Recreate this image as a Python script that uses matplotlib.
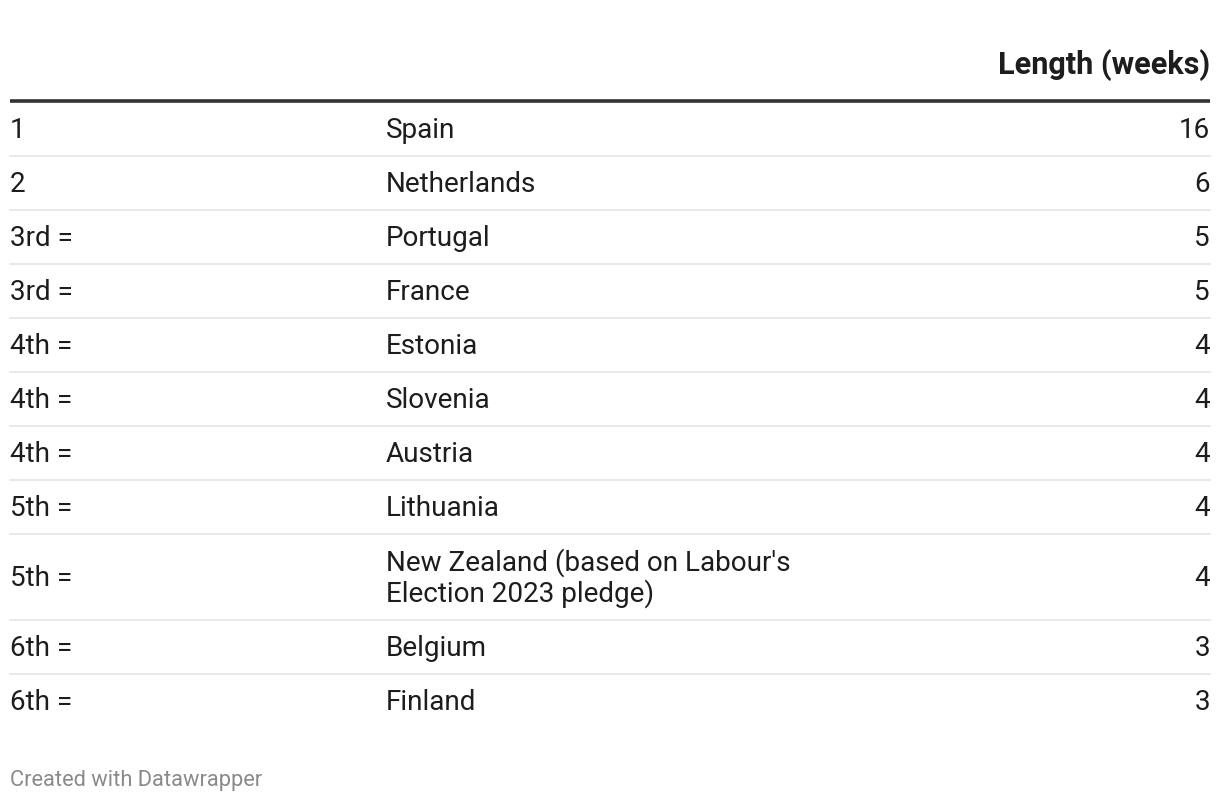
import matplotlib
matplotlib.use("Agg")
import matplotlib.pyplot as plt

ranks = ["1", "2", "3rd =", "3rd =", "4th =", "4th =", "4th =", "5th =", "5th =", "6th =", "6th ="]
countries = ["Spain", "Netherlands", "Portugal", "France", "Estonia", "Slovenia", "Austria",
             "Lithuania", "New Zealand (based on Labour's\nElection 2023 pledge)", "Belgium", "Finland"]
weeks = [16, 6, 5, 5, 4, 4, 4, 4, 4, 3, 3]
header = "Length (weeks)"
footer = "Created with Datawrapper"

plt.rcParams['font.family'] = ['Roboto', 'DejaVu Sans']

W, H = 1220, 802
fig = plt.figure(figsize=(W / 100, H / 100), dpi=100)
ax = fig.add_axes([0, 0, 1, 1])
ax.set_xlim(0, W)
ax.set_ylim(H, 0)
ax.axis('off')

left, col2, right = 10, 386, 1210
body_size = 20.1
txt_color = "#1d1d1d"

ax.text(right, 65.5, header, ha='right', va='center', fontsize=22.1, fontweight='bold', color=txt_color)
ax.plot([left, right], [100.5, 100.5], color="#333333", lw=2.6, solid_capstyle='butt')

y = 102
for r, c, v in zip(ranks, countries, weeks):
    nlines = c.count("\n") + 1
    h = 54 if nlines == 1 else 86
    yc = y + h / 2 + 1
    ax.text(left, yc, r, ha='left', va='center', fontsize=body_size, color=txt_color)
    ax.text(col2, yc, c, ha='left', va='center', fontsize=body_size, color=txt_color, linespacing=1.1)
    ax.text(right, yc, str(v), ha='right', va='center', fontsize=body_size, color=txt_color)
    y += h
    if c != countries[-1]:
        ax.plot([left, right], [y - 0.5, y - 0.5], color="#e5e5e5", lw=1.2)

ax.text(left, 780.5, footer, ha='left', va='center', fontsize=15.75, color="#8a8a8a")

fig.savefig("out.png", dpi=100)
